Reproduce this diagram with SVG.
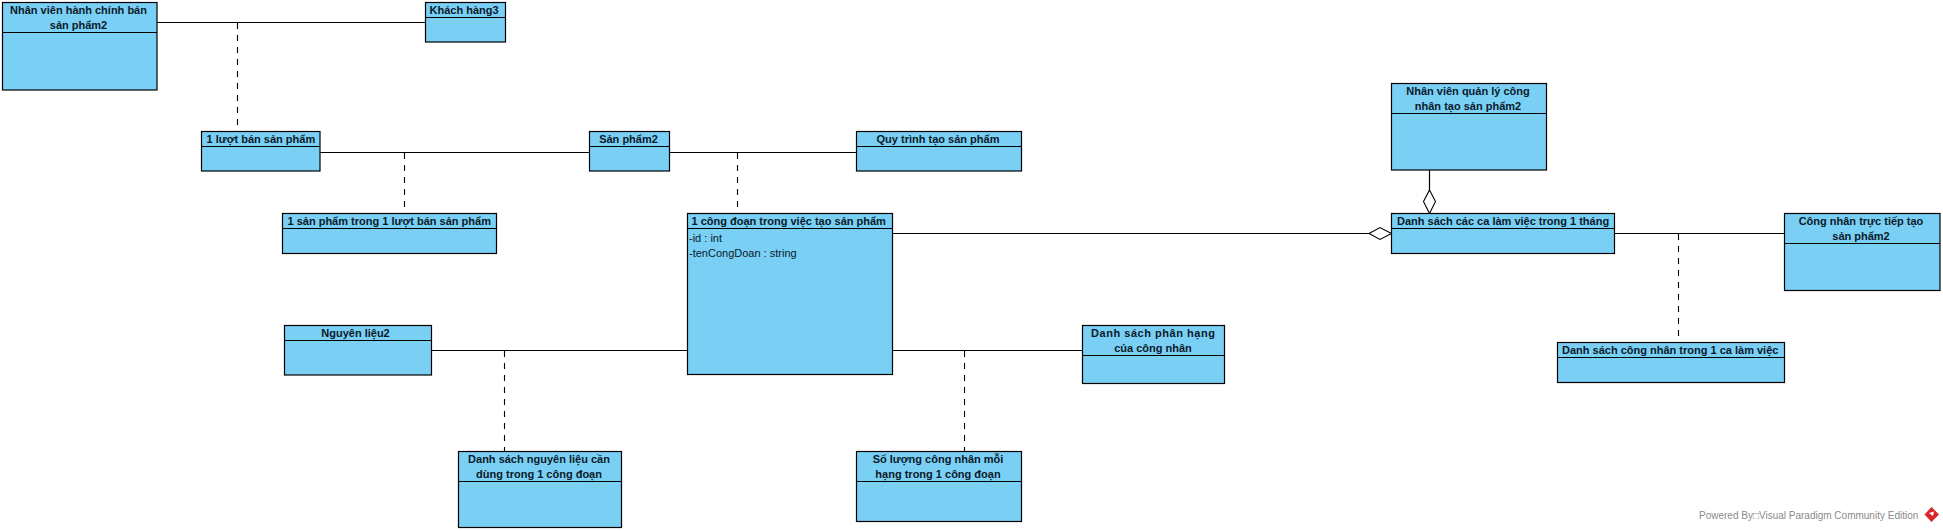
<svg xmlns="http://www.w3.org/2000/svg" width="1943" height="531" viewBox="0 0 1943 531">
<style>
.b{fill:#7acff5;stroke:#000;stroke-width:1.2}
.h{fill:none;stroke:#000;stroke-width:1}
.l{fill:none;stroke:#000;stroke-width:1.2}
.d{fill:none;stroke:#000;stroke-width:1.1;stroke-dasharray:6 6}
.a{fill:#fff;stroke:#000;stroke-width:1.1}
text{font-family:"Liberation Sans",Arial,sans-serif;font-size:11px;fill:#0a1a2a}
.t{font-weight:bold;text-anchor:middle;transform:translateX(-1px)}
.s{font-weight:bold}
.w{fill:#8a8a8a;font-size:10px}
</style>
<rect width="1943" height="531" fill="#fff"/>
<g id="connectors">
<path class="l" d="M157 22.500H425.500M320 152.500H589.500M669.500 152.500H856.500M892.500 233.500H1369M1614.500 233.500H1784.500M431.500 350.500H687.500M892.500 350.500H1082.500M1429.500 170V190"/>
<path class="d" d="M237.500 23V127M404.500 153V213M737.500 153V213M1678.500 234V339M504.500 351V451M964.500 351V451"/>
<path class="a" d="M1369 233.500L1380 227.500L1391.500 233.500L1380 239.500Z"/>
<path class="a" d="M1429.500 190L1435.500 201.500L1429.500 213.500L1423.500 201.500Z"/>
</g>
<g id="n1"><rect class="b" x="2.500" y="2.500" width="154.500" height="87.500"/><path class="h" d="M2.500 32.500H157"/><text class="t" x="79.500" y="14">Nhân viên hành chính bán</text><text class="t" x="79.500" y="29">sản phẩm2</text></g>
<g id="n2"><rect class="b" x="425.500" y="2.500" width="80" height="39.500"/><path class="h" d="M425.500 17.500H505.500"/><text class="s" x="429.500" y="14">Khách hàng3</text></g>
<g id="n3"><rect class="b" x="201.500" y="131.500" width="118.500" height="39.500"/><path class="h" d="M201.500 146.500H320"/><text class="s" x="206.500" y="143">1 lượt bán sản phẩm</text></g>
<g id="n4"><rect class="b" x="589.500" y="131.500" width="80" height="39.500"/><path class="h" d="M589.500 146.500H669.500"/><text class="t" x="629.500" y="143">Sản phẩm2</text></g>
<g id="n5"><rect class="b" x="856.500" y="131.500" width="165" height="39.500"/><path class="h" d="M856.500 146.500H1021.500"/><text class="t" x="939" y="143">Quy trình tạo sản phẩm</text></g>
<g id="n6"><rect class="b" x="282.500" y="213.500" width="214" height="40"/><path class="h" d="M282.500 228.500H496.500"/><text class="s" x="287.500" y="225">1 sản phẩm trong 1 lượt bán sản phẩm</text></g>
<g id="n7"><rect class="b" x="687.500" y="213.500" width="205" height="161"/><path class="h" d="M687.500 228.500H892.500"/><text class="s" x="691.500" y="225">1 công đoạn trong việc tạo sản phẩm</text><text x="689" y="242">-id : int</text><text x="689" y="257">-tenCongDoan : string</text></g>
<g id="n8"><rect class="b" x="1391.500" y="83.500" width="155" height="86.500"/><path class="h" d="M1391.500 113.500H1546.500"/><text class="t" x="1469" y="95">Nhân viên quản lý công</text><text class="t" x="1469" y="110">nhân tạo sản phẩm2</text></g>
<g id="n9"><rect class="b" x="1391.500" y="213.500" width="223" height="40"/><path class="h" d="M1391.500 228.500H1614.500"/><text class="s" x="1397" y="225">Danh sách các ca làm việc trong 1 tháng</text></g>
<g id="n10"><rect class="b" x="1784.500" y="213.500" width="155.500" height="77"/><path class="h" d="M1784.500 243.500H1940"/><text class="t" x="1862" y="225">Công nhân trực tiếp tạo</text><text class="t" x="1862" y="240">sản phẩm2</text></g>
<g id="n11"><rect class="b" x="284.500" y="325.500" width="147" height="49.500"/><path class="h" d="M284.500 340.500H431.500"/><text class="t" x="356.500" y="337">Nguyên liệu2</text></g>
<g id="n12"><rect class="b" x="1082.500" y="325.500" width="142" height="58"/><path class="h" d="M1082.500 355.500H1224.500"/><text class="t" x="1154" y="337" textLength="124">Danh sách phân hạng</text><text class="t" x="1154" y="352">của công nhân</text></g>
<g id="n13"><rect class="b" x="1557.500" y="342.500" width="227" height="40"/><path class="h" d="M1557.500 357.500H1784.500"/><text class="s" x="1562" y="354">Danh sách công nhân trong 1 ca làm việc</text></g>
<g id="n14"><rect class="b" x="458.500" y="451.500" width="163" height="76"/><path class="h" d="M458.500 481.500H621.500"/><text class="t" x="540" y="463">Danh sách nguyên liệu cần</text><text class="t" x="540" y="478">dùng trong 1 công đoạn</text></g>
<g id="n15"><rect class="b" x="856.500" y="451.500" width="165" height="70"/><path class="h" d="M856.500 481.500H1021.500"/><text class="t" x="939" y="463">Số lượng công nhân mỗi</text><text class="t" x="939" y="478">hạng trong 1 công đoạn</text></g>
<g id="credit"><text class="w" x="1699" y="518.500">Powered By□Visual Paradigm Community Edition</text><path d="M1931.500 507L1939 514.500L1931.500 522L1924.500 514.500Z" fill="#d8262c"/><path d="M1929 513L1934 511.500L1933 516Z" fill="#fff"/></g>
</svg>
